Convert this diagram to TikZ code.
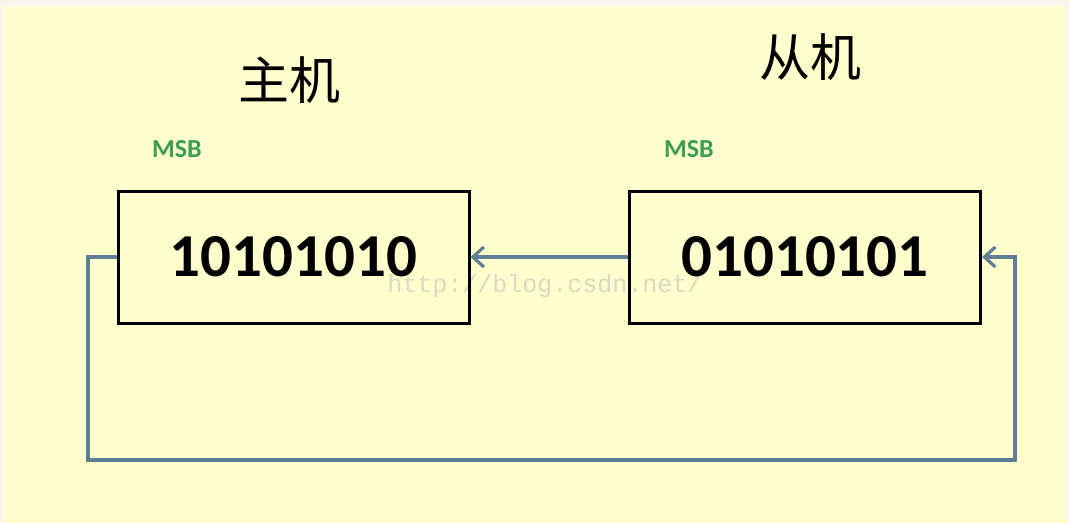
\documentclass[tikz,border=0pt]{standalone}
\usepackage{fontspec}
\setmainfont{Carlito}
\newfontfamily\cjk{Noto Sans CJK SC}
\newfontfamily\wmfont{Liberation Mono}
\usetikzlibrary{arrows.meta}
\definecolor{bgyellow}{HTML}{FFFFCD}
\definecolor{edgecol}{HTML}{F7F5EE}
\definecolor{linkblue}{HTML}{5F7F97}
\definecolor{msbgreen}{HTML}{3C9E55}
\definecolor{wmgrey}{HTML}{D9D9C6}
\tikzset{
  regbox/.style={draw=black, line width=3pt, minimum width=351pt, minimum height=132pt, inner sep=0pt,
    font=\bfseries\fontsize{61}{61}\selectfont},
  title/.style={font=\cjk\fontsize{51}{51}\selectfont, inner sep=0pt},
  msb/.style={font=\bfseries\fontsize{26}{26}\selectfont, text=msbgreen, inner sep=0pt},
  link/.style={draw=linkblue, line width=3.2pt, -{Straight Barb[length=11pt,width=20pt]}},
}
\begin{document}
\begin{tikzpicture}[x=1pt,y=-1pt]
\fill[edgecol] (0,0) rectangle (1069,523);
\fill[bgyellow] (3,6) rectangle (1066,523);
\useasboundingbox (0,0) rectangle (1069,523);
\node[wmgrey, font=\wmfont\fontsize{25}{25}\selectfont, inner sep=0pt] (wm) at (545,286) {http://blog.csdn.net/};
\node[regbox] (l) at (293.5,257) {10101010};
\node[regbox] (r) at (805,257) {01010101};
\node[title] (t1) at (289,80) {主机};
\node[title] (t2) at (810,57) {从机};
\node[msb] (m1) at (177,149) {MSB};
\node[msb] (m2) at (689,149) {MSB};
\coordinate (bl) at (88,460);
\coordinate (br) at (1015,460);
\draw[link] (r.west) -- (l.east);
\draw[link] (l.west) -| (bl) -- (br) |- (r.east);
\end{tikzpicture}
\end{document}
